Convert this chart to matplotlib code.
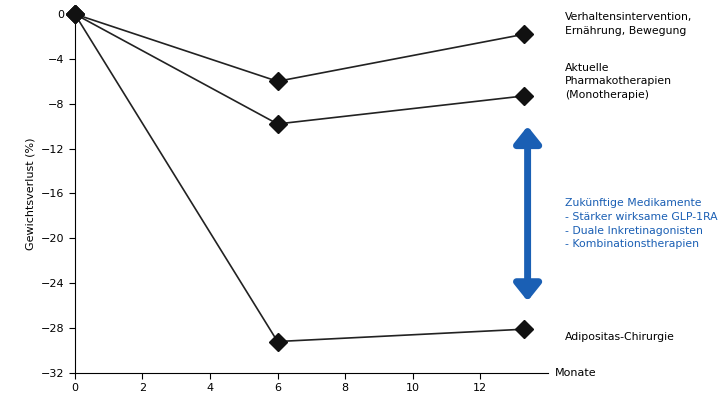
import matplotlib.pyplot as plt

months = [0, 6, 13.3]
lifestyle = [0, -6.0, -1.8]
pharma = [0, -9.8, -7.3]
surgery = [0, -29.2, -28.1]

fig = plt.figure(figsize=(7.19, 4.01), dpi=100)
ax = fig.add_axes([0.104, 0.070, 0.658, 0.895])

for ys in (lifestyle, pharma, surgery):
    ax.plot(months, ys, color='#222222', lw=1.2, marker='D', ms=9,
            mfc='#111111', mec='#111111', clip_on=False, zorder=3)

ax.set_xlim(0, 14)
ax.set_ylim(-32, 0)
ax.set_xticks(range(0, 13, 2))
ax.set_yticks(range(-32, 1, 4))
ax.set_yticklabels([str(v).replace('-', '\u2212') for v in range(-32, 1, 4)])
ax.tick_params(labelsize=8, length=4)
for s in ('top', 'right'):
    ax.spines[s].set_visible(False)
ax.set_ylabel('Gewichtsverlust (%)', fontsize=8)
ax.text(14.2, -32, 'Monate', fontsize=8, va='center', ha='left', clip_on=False)

lbl = dict(fontsize=7.8, va='center', ha='left', linespacing=1.45, clip_on=False)
ax.text(14.5, -0.9, 'Verhaltensintervention,\nErnährung, Bewegung', **lbl)
ax.text(14.5, -6.0, 'Aktuelle\nPharmakotherapien\n(Monotherapie)', **lbl)
ax.text(14.5, -28.8, 'Adipositas-Chirurgie', **lbl)

ax.annotate('', xy=(13.4, -10.0), xytext=(13.4, -25.6),
            arrowprops=dict(arrowstyle='<|-|>,head_width=0.8,head_length=1.0',
                            color='#1a5fb4', lw=5, shrinkA=0, shrinkB=0),
            annotation_clip=False)
ax.text(14.5, -18.7, 'Zukünftige Medikamente\n- Stärker wirksame GLP-1RA\n'
        '- Duale Inkretinagonisten\n- Kombinationstherapien',
        color='#1a5fb4', **lbl)

fig.savefig('out.png', dpi=100)
